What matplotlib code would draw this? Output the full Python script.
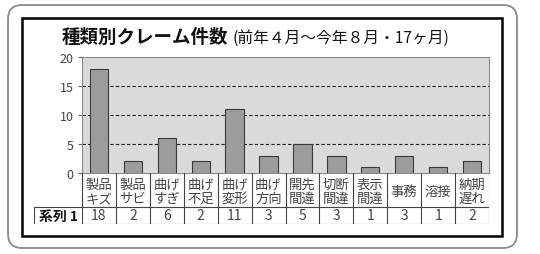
import matplotlib
matplotlib.use('Agg')
import matplotlib.pyplot as plt
from matplotlib.patches import FancyBboxPatch, Rectangle

plt.rcParams['font.family'] = ['Noto Sans CJK JP', 'DejaVu Sans']

# data
categories = ['製品\nキズ', '製品\nサビ', '曲げ\nすぎ', '曲げ\n不足', '曲げ\n変形', '曲げ\n方向',
              '開先\n間違', '切断\n間違', '表示\n間違', '事務', '溶接', '納期\n遅れ']
counts = [18, 2, 6, 2, 11, 3, 5, 3, 1, 3, 1, 2]
series_name = '系列 1'
title = '種類別クレーム件数'
subtitle = '(前年４月〜今年８月・17ヶ月)'
yticks = [0, 5, 10, 15, 20]

W, H = 540, 255
fig = plt.figure(figsize=(W / 100, H / 100), dpi=100)

# background frame in pixel coords
bg = fig.add_axes([0, 0, 1, 1])
bg.set_xlim(0, W)
bg.set_ylim(H, 0)
bg.axis('off')
r = 14
bg.add_patch(FancyBboxPatch((8 + r, 6 + r), 509 - 2 * r, 243 - 2 * r,
                            boxstyle='round,pad=%d' % r, fc='white', ec='#8a8a8a', lw=1.3))
bg.add_patch(Rectangle((22, 19), 480, 218, fc='white', ec='black', lw=1.8))
bg.text(62, 37, title, fontsize=13.3, fontweight='bold', va='center', ha='left', color='#111')
bg.text(233, 38, subtitle, fontsize=11.3, va='center', ha='left', color='#111')

# bar chart
left, right, top, bottom = 82, 489, 58, 174
ax = fig.add_axes([left / W, 1 - bottom / H, (right - left) / W, (bottom - top) / H])
x = list(range(len(counts)))
ax.set_facecolor('#dadada')
ax.bar(x, counts, width=0.54, color='#9c9c9c', edgecolor='#3a3a3a', lw=0.8, zorder=3)
for v in yticks[1:-1]:
    ax.axhline(v, color='#222', lw=0.8, ls=(0, (3, 2)), zorder=2)
ax.set_xlim(-0.5, len(counts) - 0.5)
ax.set_ylim(0, 20)
ax.set_yticks(yticks)
ax.set_xticks([])
ax.tick_params(axis='y', length=3, color='#666', labelsize=9, labelcolor='#444', pad=3)
for s in ax.spines.values():
    s.set_color('#8a8a8a')
    s.set_linewidth(0.8)

# data table under the chart
cw = (right - left) / len(counts)
tleft, tbot = 34, 225
tab = fig.add_axes([tleft / W, 1 - tbot / H, (right - tleft) / W, (tbot - bottom) / H])
tab.set_xlim(-0.5 - (left - tleft) / cw, len(counts) - 0.5)
tab.set_ylim(tbot - bottom, 0)
tab.axis('off')
row1 = 208 - bottom
row2 = tbot - bottom
lc = '#444'
for i in range(len(counts) + 1):
    tab.plot([i - 0.5, i - 0.5], [0, row2], color=lc, lw=0.8)
x0 = -0.5 - (left - tleft) / cw
tab.plot([x0, x0], [row1, row2], color=lc, lw=0.8)
tab.plot([x0, len(counts) - 0.5], [row1, row1], color=lc, lw=0.8)
tab.plot([x0, len(counts) - 0.5], [row2, row2], color=lc, lw=0.8)
for i, (c, v) in enumerate(zip(categories, counts)):
    tab.text(i, row1 / 2 + 1, c, ha='center', va='center', fontsize=9.6, color='#444', linespacing=1.0)
    tab.text(i, (row1 + row2) / 2, str(v), ha='center', va='center', fontsize=10, color='#444')
tab.text((x0 - 0.5) / 2, (row1 + row2) / 2, series_name, ha='center', va='center',
         fontsize=10, fontweight='bold', color='#111')

fig.savefig('out.png', dpi=100)
